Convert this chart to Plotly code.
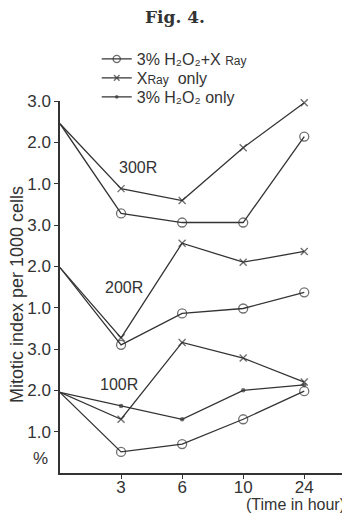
import plotly.graph_objects as go

# ---- data ----
times = [0, 3, 6, 10, 24]          # hours (tick labels)
panels = ["100R", "200R", "300R"]
panel_offsets = [0, 3, 6]          # each panel occupies 3 units of the stacked axis

# values per panel (mitotic index per 1000 cells, %)
h2o2_xray = {
    "300R": [2.45, 0.28, 0.06, 0.06, 2.14],
    "200R": [1.97, 0.10, 0.86, 0.98, 1.37],
    "100R": [1.95, 0.51, 0.70, 1.30, 1.98],
}
xray_only = {
    "300R": [2.45, 0.88, 0.59, 1.87, 2.96],
    "200R": [1.97, 0.27, 2.56, 2.10, 2.36],
    "100R": [1.95, 1.30, 3.16, 2.78, 2.20],
}
h2o2_only = {
    "100R": [1.95, 1.62, 1.30, 2.00, 2.13],
}

ytick_vals = [1, 2, 3, 4, 5, 6, 7, 8, 9]
ytick_text = ["1.0", "2.0", "3.0", "1.0", "2.0", "3.0", "1.0", "2.0", "3.0"]

# ---- styling ----
INK = "#333333"
FONT = "Liberation Sans, Arial, sans-serif"
xpos = list(range(len(times)))

# the page body has an 8px default margin, so the figure is sized to the
# remaining visible area and all layout is expressed relative to it
W, H = 342, 510

series = [
    ("3% H₂O₂+X <span style='font-size:12px'>Ray</span>",
     h2o2_xray, dict(symbol="circle-open", size=[0, 9, 9, 9, 9],
                     color=INK, line=dict(color=INK, width=1.3)), "legend"),
    ("X<span style='font-size:12px'>Ray</span>  only",
     xray_only, dict(symbol="x-thin-open", size=[0, 7, 7, 7, 7],
                     color=INK, line=dict(color=INK, width=1.4)), "legend2"),
    ("3% H₂O₂ only",
     h2o2_only, dict(symbol="circle", size=[0, 4.5, 4.5, 4.5, 4.5],
                     color=INK, line=dict(width=0)), "legend3"),
]

fig = go.Figure()
for name, data, marker, lg in series:
    first = True
    for p, off in zip(panels, panel_offsets):
        if p not in data:
            continue
        fig.add_trace(go.Scatter(
            x=xpos, y=[off + v for v in data[p]],
            mode="lines+markers", name=name,
            line=dict(color=INK, width=1.3),
            marker=marker, cliponaxis=False,
            legendgroup=name, showlegend=first, legend=lg,
        ))
        first = False

leg_common = dict(xanchor="left", yanchor="middle", bgcolor="rgba(0,0,0,0)",
                  borderwidth=0, font=dict(family=FONT, size=16, color=INK),
                  itemwidth=30)

fig.update_layout(
    width=W, height=H,
    margin=dict(l=52, r=3, t=93, b=45),
    paper_bgcolor="white", plot_bgcolor="white",
    font=dict(family=FONT, color=INK),
    title=dict(text="<b>Fig. 4.</b>", x=167 / W, xanchor="center", xref="container",
               y=1 - 3 / H, yanchor="top", yref="container",
               font=dict(family="DejaVu Serif, serif", size=17, color=INK)),
    legend=dict(x=0.128, y=(473 - 59) / 372, **leg_common),
    legend2=dict(x=0.128, y=(473 - 78) / 372, **leg_common),
    legend3=dict(x=0.128, y=(473 - 97) / 372, **leg_common),
    xaxis=dict(range=[0, 4.7], showgrid=False, zeroline=False,
               showline=True, linecolor=INK, linewidth=1.5,
               ticks="outside", ticklen=4, tickwidth=1.2, tickcolor=INK,
               tickvals=xpos[1:], ticktext=[str(t) for t in times[1:]],
               ticklabelstandoff=-6,
               tickfont=dict(family=FONT, size=17, color=INK)),
    yaxis=dict(range=[0, 9], showgrid=False, zeroline=False,
               showline=True, linecolor=INK, linewidth=1.5,
               ticks="outside", ticklen=4, tickwidth=1.2, tickcolor=INK,
               tickvals=ytick_vals, ticktext=ytick_text,
               tickfont=dict(family=FONT, size=17, color=INK)),
    annotations=[
        dict(text="300R", x=1.277, y=7.40, xref="x", yref="y", showarrow=False,
             font=dict(family=FONT, size=16, color=INK)),
        dict(text="200R", x=1.048, y=4.476, xref="x", yref="y", showarrow=False,
             font=dict(family=FONT, size=16, color=INK)),
        dict(text="100R", x=0.966, y=2.13, xref="x", yref="y", showarrow=False,
             font=dict(family=FONT, size=16, color=INK)),
        dict(text="%", x=-20 / 287, y=0.34, xref="paper", yref="y", showarrow=False,
             xanchor="center", font=dict(family=FONT, size=17, color=INK)),
        dict(text="Mitotic index per 1000 cells", textangle=-90,
             x=-0.15, y=0.481, xref="paper", yref="paper", showarrow=False,
             xanchor="center", yanchor="middle",
             font=dict(family=FONT, size=18, color=INK)),
        dict(text="(Time in hour)", x=(295 - 60) / 287, y=(473 - 504) / 372,
             xref="paper", yref="paper", showarrow=False,
             xanchor="center", yanchor="middle",
             font=dict(family=FONT, size=16, color=INK)),
    ],
)

fig.write_html("out.html")
